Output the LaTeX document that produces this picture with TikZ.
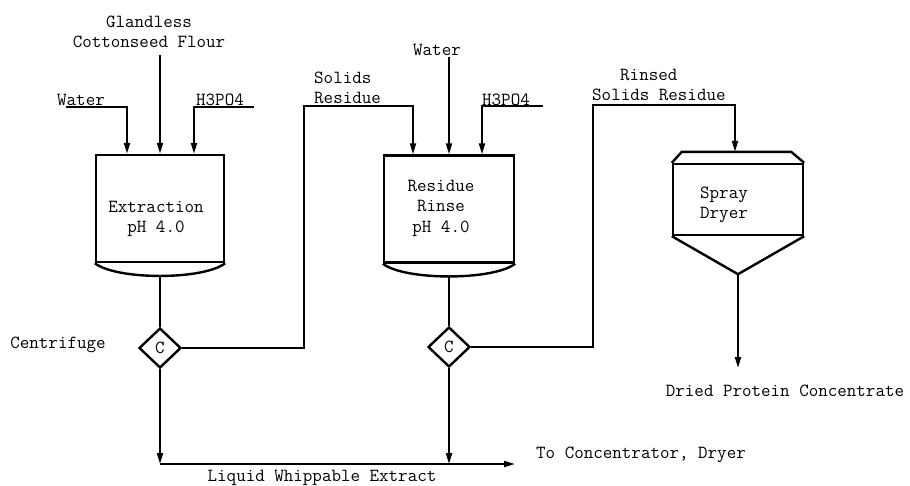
\documentclass[tikz,border=0pt]{standalone}
\usepackage{fontspec}
\usepackage{tikz}
\usetikzlibrary{positioning,arrows.meta,shapes.geometric,calc}
\tikzset{
  tank/.style={draw, line width=2.4pt, minimum width=128pt, minimum height=107pt, inner sep=0pt},
  cfg/.style={draw, diamond, line width=2.4pt, minimum width=42pt, minimum height=40pt, inner sep=0pt},
  lbl/.style={align=center, inner sep=0pt},
  pipe/.style={line width=2pt},
  arr/.style={pipe, -{Triangle[length=11pt,width=6pt]}},
  rim/.style={line width=2.4pt},
}

\begin{document}
\begin{tikzpicture}[x=1pt, y=-1pt, font=\ttfamily\fontsize{18.5}{20.5}\selectfont]
\useasboundingbox[fill=white] (0,0) rectangle (910,485);
% vessels
\node[tank] (ext) at (160,208.5) {};
\node[tank, minimum width=130pt] (rin) at (449,209) {};
\node[tank, minimum width=130pt, minimum height=71pt] (dry) at (738,199.5) {};
\node[lbl] (ext-t) at (156,219) {Extraction\\pH 4.0};
\node[lbl] (rin-t) at (441,208) {Residue\\Rinse\\pH 4.0};
\node[lbl] (dry-t) at (724,205) {Spray\\Dryer};
\draw[rim] (ext.south west) .. controls ($(ext.south west)+(22,17)$) and ($(ext.south east)+(-22,17)$) .. (ext.south east);
\draw[rim] (rin.south west) .. controls ($(rin.south west)+(22,17)$) and ($(rin.south east)+(-22,17)$) .. (rin.south east);
\draw[rim, line join=miter] (dry.north west) -- ++(10,-11) -- ($(dry.north east)+(-13,-11)$) -- (dry.north east);
\draw[rim] (dry.south west) -- ($(dry.south)+(0,38)$) coordinate (dry-b) -- (dry.south east);
\coordinate (ext-b) at ($(ext.south)+(0,12)$);
\coordinate (rin-b) at ($(rin.south)+(0,12)$);
\coordinate (dry-top) at ($(dry.north)+(-3,-11)$);
% centrifuges
\node[cfg] (c1) at (160,348) {C};
\node[cfg] (c2) at (449,347) {C};
\node[lbl] (cfg-t) at (58,345) {Centrifuge};
% feeds
\node[lbl] (flour) at (149,32) {Glandless\\Cottonseed Flour};
\node[lbl] (w1) at (81,100) {Water};
\node[lbl] (a1) at (220,100) {H3PO4};
\node[lbl] (w2) at (437,50) {Water};
\node[lbl] (a2) at (506,100) {H3PO4};
\node[lbl, align=left, anchor=west] (sr) at (314,88) {Solids\\Residue};
\node[lbl, align=left, anchor=west] (rr) at (592,85) {\hspace*{28pt}Rinsed\\Solids Residue};
\draw[arr] (66,107) -| ($(ext.north)+(-33,0)$);
\draw[arr] (ext.north |- 0,55) -- (ext.north);
\draw[arr] (254,107) -| ($(ext.north)+(34,0)$);
\draw[arr] (rin.north |- 0,57) -- (rin.north);
\draw[arr] (543,106) -| ($(rin.north)+(33,0)$);
% solids
\draw[pipe] (ext-b) -- (c1.north);
\draw[pipe] (rin-b) -- (c2.north);
\draw[arr] (c1.east) -| (304,106) -| ($(rin.north)+(-36,0)$);
\draw[arr] (c2.east) -| (593,105) -| (dry-top);
\draw[arr] (dry-b) -- (dry-b |- 0,368);
\node[lbl] (dpc) at (785,391) {Dried Protein Concentrate};
% liquid extract
\coordinate (l1) at (c1 |- 0,464);
\coordinate (l2) at (c2 |- 0,464);
\draw[arr] (c1.south) -- (l1);
\draw[arr] (c2.south) -- (l2);
\draw[arr] (l1) -- (515,464);
\node[lbl, anchor=west] (conc) at (536,455) {To Concentrator, Dryer};
\node[lbl] (lwe) at (322,478) {Liquid Whippable Extract};
\end{tikzpicture}
\end{document}
